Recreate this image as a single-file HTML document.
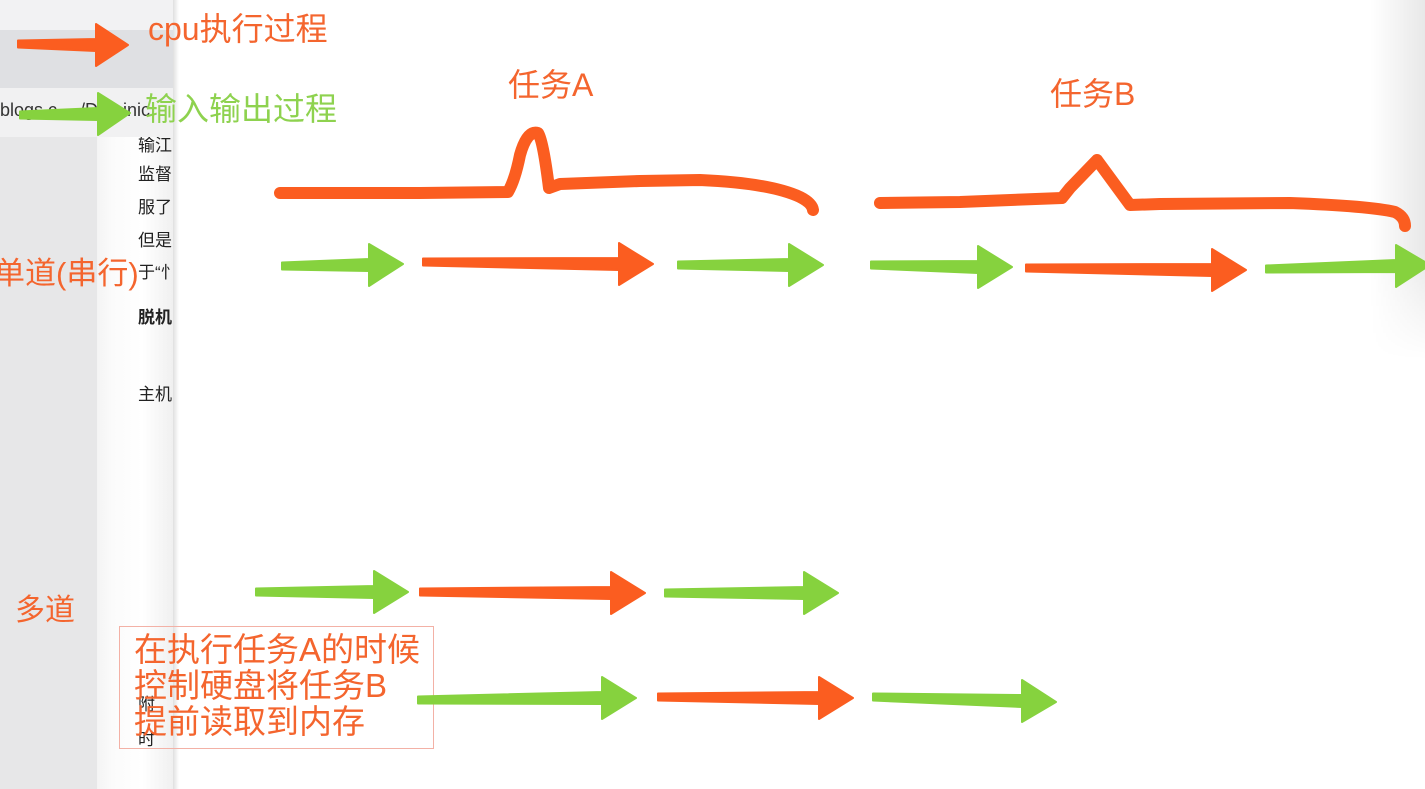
<!DOCTYPE html>
<html><head><meta charset="utf-8"><style>
html,body{margin:0;padding:0;width:1425px;height:789px;overflow:hidden;background:#fff;position:relative;font-family:"Liberation Sans","Noto Sans CJK SC",sans-serif}
.abs{position:absolute;white-space:nowrap}
.side{left:0;top:0;width:97px;height:789px;background:#e7e7e8}
.strip{left:97px;top:137px;width:76px;height:652px;background:linear-gradient(to right,#f4f4f4,#fbfbfb 20%,#fff 60%,#f0f0f0)}
.bar1{left:0;top:0;width:173px;height:30px;background:#f2f2f3}
.bar2{left:0;top:30px;width:173px;height:58px;background:#dfe0e3}
.bar3{left:0;top:88px;width:173px;height:49px;background:#f1f1f2}
.shadow{left:173px;top:0;width:6px;height:789px;background:linear-gradient(to right,rgba(0,0,0,.12),rgba(0,0,0,0))}
.rsh{left:1370px;top:0;width:55px;height:360px;background:linear-gradient(to right,rgba(0,0,0,0),rgba(0,0,0,.09));-webkit-mask-image:linear-gradient(to bottom,#000 70%,transparent);mask-image:linear-gradient(to bottom,#000 70%,transparent)}
.clip{left:97px;top:137px;width:76px;height:652px;overflow:hidden}
.clip div{position:absolute;left:41px;font-size:17px;color:#222}
.or{color:#f4652e}.gr{color:#8ed24f}
</style></head><body>
<div class="abs side"></div>
<div class="abs strip"></div>
<div class="abs bar1"></div>
<div class="abs bar2"></div>
<div class="abs bar3"></div>
<div class="abs" style="left:0;top:100px;font-size:18px;color:#333">blogs.c… /Dominic</div>
<div class="abs clip">
<div style="top:-6px">输江</div>
<div style="top:23px">监督</div>
<div style="top:56px">服了</div>
<div style="top:89px">但是</div>
<div style="top:121px">于“忄</div>
<div style="top:166px;font-weight:bold">脱机</div>
<div style="top:243px">主机</div>
<div style="top:553px">附</div>
<div style="top:588px">时</div>
</div>
<div class="abs shadow"></div>
<div class="abs rsh"></div>

<div class="abs or" style="left:148px;top:4px;font-size:32px">cpu执行过程</div>
<div class="abs gr" style="left:145px;top:84px;font-size:32px">输入输出过程</div>
<div class="abs or" style="left:508px;top:60px;font-size:32px">任务A</div>
<div class="abs or" style="left:1050px;top:69px;font-size:32px">任务B</div>
<div class="abs or" style="left:-6px;top:248px;font-size:31px">单道(串行)</div>
<div class="abs or" style="left:15px;top:585px;font-size:30px">多道</div>
<div class="abs" style="left:119px;top:626px;width:313px;height:121px;border:1px solid #f3b1a6"></div>
<div class="abs or" style="left:134px;top:632px;font-size:33px;line-height:36px">在执行任务A的时候<br>控制硬盘将任务B<br>提前读取到内存</div>

<svg class="abs" style="left:0;top:0" width="1425" height="789" viewBox="0 0 1425 789">
<g fill="none" stroke="#fb5d20" stroke-width="12" stroke-linecap="round" stroke-linejoin="round">
<path d="M280,193 L420,193 L508,192 Q515,180 520,155 Q527,130 538,133 Q543,140 549,188 L560,184 L640,181 L700,180 Q770,183 800,197 Q812,203 813,210"/>
<path d="M880,203 L960,202 L1062,198 L1070,188 L1097,160 L1130,205 L1160,204 L1290,203 Q1370,206 1395,212 Q1405,217 1405,226"/>
</g>
<g stroke-linejoin="round" stroke-width="2">
<g fill="#fb5d20" stroke="#fb5d20">
<polygon points="18,40.5 96,39 96,24 128,45 96,66 96,51 18,47.5"/>
<polygon points="423,258.5 619,258 619,243 653,264 619,285 619,270 423,265.5"/>
<polygon points="1026,264.5 1212,264 1212,249 1246,270 1212,291 1212,276 1026,271.5"/>
<polygon points="420,588.5 611,587 611,572 645,593 611,614 611,599 420,595.5"/>
<polygon points="658,693.5 819,692 819,677 853,698 819,719 819,704 658,700.5"/>
</g>
<g fill="#86d23e" stroke="#86d23e">
<polygon points="20,111.5 98,108 98,93 130,113 98,135 98,120 20,118.5"/>
<polygon points="282,262.5 369,259 369,244 403,264 369,286 369,271 282,269.5"/>
<polygon points="678,261.5 789,259 789,244 823,265 789,286 789,271 678,268.5"/>
<polygon points="871,261.5 978,261 978,246 1012,267 978,288 978,273 871,268.5"/>
<polygon points="1266,265.5 1396,260 1396,245 1430,265 1396,287 1396,272 1266,272.5"/>
<polygon points="256,588.5 374,586 374,571 408,592 374,613 374,598 256,595.5"/>
<polygon points="665,589.5 804,587 804,572 838,593 804,614 804,599 665,596.5"/>
<polygon points="418,696.5 602,692 602,677 636,698 602,719 602,704 418,703.5"/>
<polygon points="873,693.5 1022,695 1022,680 1056,702 1022,722 1022,707 873,700.5"/>
</g>
</g>
</svg>
</body></html>
